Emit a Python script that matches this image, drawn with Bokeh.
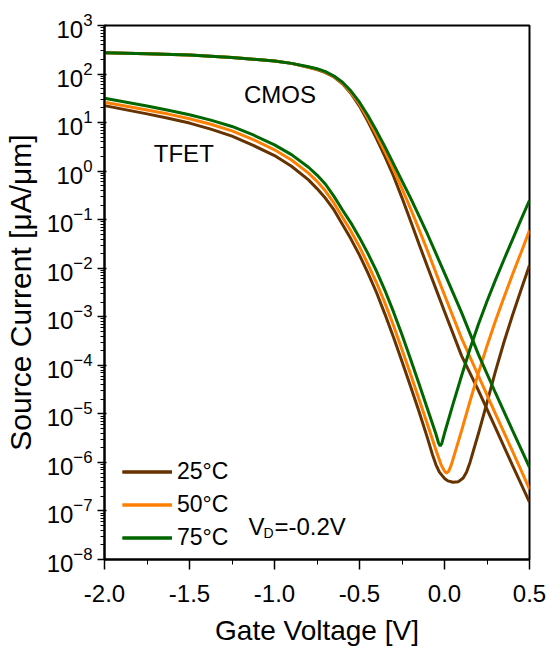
from bokeh.plotting import figure
from bokeh.models import (Range1d, FixedTicker, NumeralTickFormatter, Label,
                          Legend, LegendItem)
from bokeh.embed import file_html
from bokeh.resources import INLINE

# ---------------- data (as log10 of current in uA/um) ----------------
temps = ["25°C", "50°C", "75°C"]
colors = ["#663300", "#FF8000", "#006600"]

cmos_vg = [-2.0, -1.75, -1.5, -1.25, -1.0, -0.9, -0.8, -0.75, -0.7, -0.65, -0.6, -0.55,
           -0.5, -0.45, -0.4, -0.35, -0.3, -0.25, -0.2, -0.15, -0.1, -0.05, 0.0,
           0.1, 0.2, 0.3, 0.4, 0.5]
cmos_25_log10 = [2.44, 2.42, 2.39, 2.34, 2.27, 2.22, 2.14, 2.09, 2.03, 1.94, 1.80, 1.60,
                 1.34, 1.02, 0.67, 0.30, -0.10, -0.55, -1.02, -1.50, -1.97, -2.43, -2.89,
                 -3.80, -4.52, -5.29, -6.06, -6.82]
cmos_50_log10 = [2.44, 2.42, 2.39, 2.34, 2.27, 2.22, 2.14, 2.10, 2.04, 1.95, 1.81, 1.62,
                 1.38, 1.08, 0.75, 0.40, 0.03, -0.36, -0.77, -1.20, -1.64, -2.10, -2.55,
                 -3.44, -4.22, -5.00, -5.77, -6.55]
cmos_75_log10 = [2.44, 2.42, 2.39, 2.34, 2.27, 2.22, 2.15, 2.11, 2.05, 1.96, 1.83, 1.65,
                 1.42, 1.14, 0.83, 0.50, 0.15, -0.20, -0.55, -0.92, -1.30, -1.70, -2.10,
                 -2.91, -3.78, -4.57, -5.34, -6.10]

tfet25_vg = [-2.0, -1.75, -1.625, -1.5, -1.375, -1.25, -1.125, -1.0, -0.9, -0.8, -0.75, -0.7,
             -0.65, -0.6, -0.55, -0.5, -0.45, -0.4, -0.35, -0.3, -0.25, -0.2, -0.15, -0.1,
             -0.07, -0.05, -0.03, 0.0, 0.02, 0.05, 0.08, 0.11, 0.13, 0.15, 0.2, 0.25, 0.3,
             0.35, 0.4, 0.45, 0.5]
tfet_25_log10 = [1.35, 1.18, 1.09, 0.99, 0.865, 0.72, 0.53, 0.32, 0.10, -0.18, -0.36, -0.56,
                 -0.80, -1.10, -1.40, -1.73, -2.10, -2.50, -2.95, -3.42, -3.92, -4.43, -4.95, -5.50,
                 -5.85, -6.05, -6.20, -6.33, -6.38, -6.41, -6.40, -6.32, -6.20, -6.00, -5.40, -4.77, -4.12,
                 -3.52, -2.97, -2.45, -1.94]

tfet50_vg = [-2.0, -1.75, -1.625, -1.5, -1.375, -1.25, -1.125, -1.0, -0.9, -0.8, -0.75, -0.7,
             -0.65, -0.6, -0.55, -0.5, -0.45, -0.4, -0.35, -0.3, -0.25, -0.2, -0.15, -0.1,
             -0.05, -0.02, 0.0, 0.012, 0.025, 0.04, 0.06, 0.1, 0.15, 0.2, 0.25, 0.3, 0.35,
             0.4, 0.45, 0.5]
tfet_50_log10 = [1.42, 1.26, 1.175, 1.08, 0.965, 0.83, 0.65, 0.44, 0.23, -0.04, -0.21, -0.41,
                 -0.66, -0.95, -1.24, -1.56, -1.92, -2.30, -2.72, -3.18, -3.68, -4.18, -4.70, -5.22,
                 -5.75, -6.05, -6.18, -6.22, -6.18, -6.05, -5.82, -5.35, -4.74, -4.15, -3.60, -3.08, -2.60,
                 -2.13, -1.68, -1.22]

tfet75_vg = [-2.0, -1.75, -1.625, -1.5, -1.375, -1.25, -1.125, -1.0, -0.9, -0.8, -0.75, -0.7,
             -0.65, -0.6, -0.55, -0.5, -0.45, -0.4, -0.35, -0.3, -0.25, -0.2, -0.15, -0.1,
             -0.05, -0.035, -0.025, -0.015, 0.0, 0.05, 0.1, 0.15, 0.2, 0.25, 0.3, 0.35, 0.4,
             0.45, 0.5]
tfet_75_log10 = [1.50, 1.34, 1.255, 1.16, 1.05, 0.92, 0.745, 0.54, 0.34, 0.08, -0.08, -0.27,
                 -0.52, -0.80, -1.07, -1.37, -1.70, -2.06, -2.46, -2.90, -3.37, -3.87, -4.38, -4.90,
                 -5.42, -5.60, -5.66, -5.60, -5.40, -4.80, -4.22, -3.66, -3.15, -2.68, -2.24, -1.82, -1.41,
                 -1.00, -0.60]

x_ticks = [-2.0, -1.5, -1.0, -0.5, 0.0, 0.5]
x_minor = [-1.75, -1.25, -0.75, -0.25, 0.25]
y_decades = list(range(-8, 4))

FONT = "Liberation Sans"


def to_current(logs):
    return [10.0 ** v for v in logs]


p = figure(width=548, height=648, y_axis_type="log",
           x_range=Range1d(-2.0, 0.5), y_range=Range1d(1e-8, 1e3),
           output_backend="svg", toolbar_location=None,
           min_border_left=104, min_border_right=19, min_border_top=25,
           min_border_bottom=89)
p.grid.visible = False
p.outline_line_color = "black"
p.outline_line_width = 2
p.background_fill_color = "white"
p.border_fill_color = "white"

cmos_data = [cmos_25_log10, cmos_50_log10, cmos_75_log10]
tfet_data = [(tfet25_vg, tfet_25_log10), (tfet50_vg, tfet_50_log10), (tfet75_vg, tfet_75_log10)]

renderers = []
for i in range(3):
    r1 = p.line(cmos_vg, to_current(cmos_data[i]), line_color=colors[i], line_width=3)
    vg, lg = tfet_data[i]
    r2 = p.line(vg, to_current(lg), line_color=colors[i], line_width=3)
    renderers.append([r1, r2])

legend = Legend(items=[LegendItem(label=temps[i], renderers=renderers[i]) for i in range(3)],
                location=(18, 8), orientation="vertical",
                border_line_color=None, background_fill_alpha=0,
                padding=0, margin=0, spacing=6, glyph_width=50, glyph_height=25,
                label_height=25, label_standoff=5,
                label_text_font=FONT, label_text_font_size="23px",
                label_text_color="black")
p.add_layout(legend, "center")

# axes
xa = p.xaxis[0]
xa.ticker = FixedTicker(ticks=x_ticks, minor_ticks=x_minor)
xa.formatter = NumeralTickFormatter(format="0.0")
xa.axis_label = "Gate Voltage [V]"
xa.major_tick_out = 10
xa.major_tick_in = 0
xa.minor_tick_out = 5
xa.minor_tick_in = 0
xa.major_label_standoff = 15

ya = p.yaxis[0]
ya.ticker = FixedTicker(ticks=[10.0 ** d for d in y_decades],
                        minor_ticks=[k * 10.0 ** d for d in y_decades[:-1] for k in range(2, 10)])
ya.axis_label = "Source Current [μA/μm]"
ya.major_tick_out = 7
ya.major_tick_in = 2
ya.minor_tick_out = 4
ya.minor_tick_in = 0
ya.major_label_standoff = 5

for ax in (xa, ya):
    ax.axis_line_width = 2
    ax.axis_line_color = "black"
    ax.major_tick_line_width = 1.5
    ax.major_tick_line_color = "black"
    ax.minor_tick_line_width = 1
    ax.minor_tick_line_color = "black"
    ax.major_label_text_font = FONT
    ax.major_label_text_font_size = "24px"
    ax.major_label_text_color = "black"
    ax.axis_label_text_font = FONT
    ax.axis_label_text_font_style = "normal"
    ax.axis_label_text_color = "black"

xa.axis_label_text_font_size = "28px"
xa.axis_label_standoff = 10
ya.axis_label_text_font_size = "30px"
ya.axis_label_standoff = 7

# annotations
for txt, xv, yv in [("CMOS", -1.18, 37.5), ("TFET", -1.71, 2.3)]:
    p.add_layout(Label(x=xv, y=yv, text=txt, text_font=FONT, text_font_size="24px",
                       text_baseline="alphabetic", text_color="black"))

p.add_layout(Label(x=-1.153, y=4.8e-8, text="V", text_font=FONT, text_font_size="24px",
                   text_baseline="alphabetic", text_color="black"))
p.add_layout(Label(x=-1.153, y=4.8e-8, text="D", x_offset=15, y_offset=-7,
                   text_font=FONT, text_font_size="14px", text_baseline="alphabetic",
                   text_color="black"))
p.add_layout(Label(x=-1.153, y=4.8e-8, text="=-0.2V", x_offset=26, text_font=FONT,
                   text_font_size="24px", text_baseline="alphabetic", text_color="black"))

open("out.html", "w").write(file_html(p, INLINE))
